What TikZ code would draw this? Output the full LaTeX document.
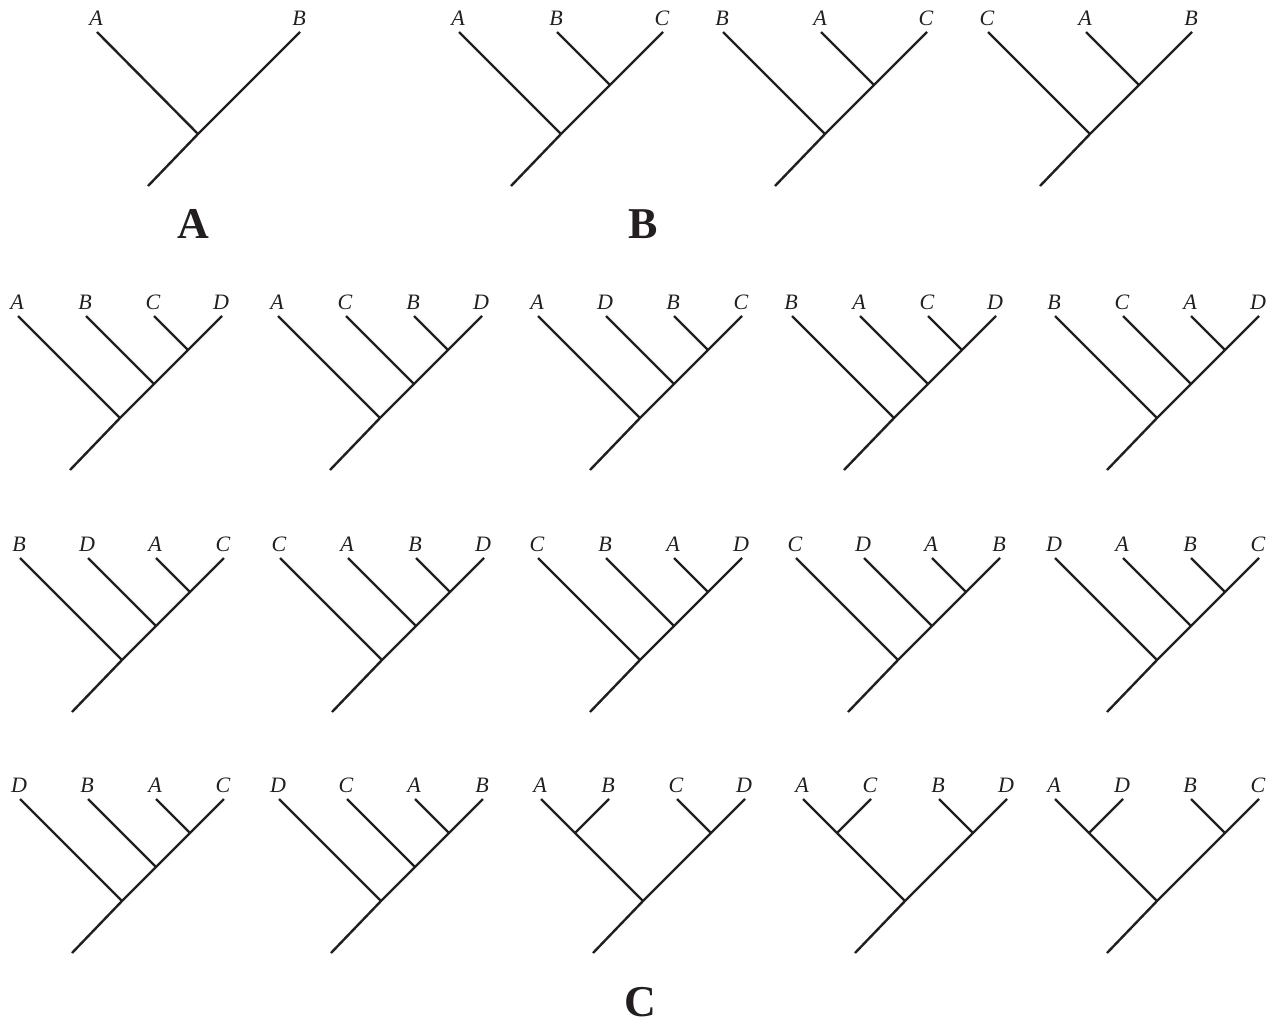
\documentclass[tikz,border=0pt]{standalone}
\usepackage{fontspec}
\setmainfont{Liberation Serif}
\usetikzlibrary{calc}
\definecolor{ink}{HTML}{231F20}
\tikzset{
  br/.style={draw=ink, line width=1.2pt},
  lab/.style={inner sep=0pt, anchor=base, text=ink, font=\itshape\fontsize{11}{12}\selectfont},
  panel/.style={inner sep=0pt, anchor=base, text=ink, font=\bfseries\fontsize{22}{26}\selectfont}
}
% two-leaf tree
\newcommand{\trtwo}[5]{%
  \coordinate (#1r) at (#2,#3);
  \coordinate (#1b) at ($(#1r)+(-50,52)$);
  \coordinate (#1l1) at ($(#1r)+(-101,-102)$);
  \coordinate (#1l2) at ($(#1r)+(102,-102)$);
  \node[lab] (#1t1) at ($(#1l1)+(-1,-6.5)$) {#4};
  \node[lab] (#1t2) at ($(#1l2)+(-1,-6.5)$) {#5};
  \draw[br] (#1b) -- (#1r) -- (#1l2);
  \draw[br] (#1r) -- (#1l1);
}
% three-leaf caterpillar
\newcommand{\trthree}[6]{%
  \coordinate (#1r) at (#2,#3);
  \coordinate (#1b) at ($(#1r)+(-50,52)$);
  \coordinate (#1n) at ($(#1r)+(49,-49)$);
  \coordinate (#1l1) at ($(#1r)+(-102,-102)$);
  \coordinate (#1l2) at ($(#1r)+(-4,-102)$);
  \coordinate (#1l3) at ($(#1r)+(102,-102)$);
  \node[lab] (#1t1) at ($(#1l1)+(-1,-6.5)$) {#4};
  \node[lab] (#1t2) at ($(#1l2)+(-1,-6.5)$) {#5};
  \node[lab] (#1t3) at ($(#1l3)+(-1,-6.5)$) {#6};
  \draw[br] (#1b) -- (#1r) -- (#1n) -- (#1l3);
  \draw[br] (#1r) -- (#1l1);
  \draw[br] (#1n) -- (#1l2);
}
% four-leaf caterpillar
\newcommand{\trcat}[7]{%
  \coordinate (#1r) at (#2,#3);
  \coordinate (#1b) at ($(#1r)+(-50,52)$);
  \coordinate (#1n2) at ($(#1r)+(34,-34)$);
  \coordinate (#1n1) at ($(#1r)+(68,-68)$);
  \coordinate (#1l1) at ($(#1r)+(-102,-102)$);
  \coordinate (#1l2) at ($(#1r)+(-34,-102)$);
  \coordinate (#1l3) at ($(#1r)+(34,-102)$);
  \coordinate (#1l4) at ($(#1r)+(102,-102)$);
  \node[lab] (#1t1) at ($(#1l1)+(-1,-6.5)$) {#4};
  \node[lab] (#1t2) at ($(#1l2)+(-1,-6.5)$) {#5};
  \node[lab] (#1t3) at ($(#1l3)+(-1,-6.5)$) {#6};
  \node[lab] (#1t4) at ($(#1l4)+(-1,-6.5)$) {#7};
  \draw[br] (#1b) -- (#1r) -- (#1n2) -- (#1n1) -- (#1l4);
  \draw[br] (#1r) -- (#1l1);
  \draw[br] (#1n2) -- (#1l2);
  \draw[br] (#1n1) -- (#1l3);
}
% four-leaf balanced
\newcommand{\trbal}[7]{%
  \coordinate (#1r) at (#2,#3);
  \coordinate (#1b) at ($(#1r)+(-50,52)$);
  \coordinate (#1na) at ($(#1r)+(-68,-68)$);
  \coordinate (#1nb) at ($(#1r)+(68,-68)$);
  \coordinate (#1l1) at ($(#1r)+(-102,-102)$);
  \coordinate (#1l2) at ($(#1r)+(-34,-102)$);
  \coordinate (#1l3) at ($(#1r)+(34,-102)$);
  \coordinate (#1l4) at ($(#1r)+(102,-102)$);
  \node[lab] (#1t1) at ($(#1l1)+(-1,-6.5)$) {#4};
  \node[lab] (#1t2) at ($(#1l2)+(-1,-6.5)$) {#5};
  \node[lab] (#1t3) at ($(#1l3)+(-1,-6.5)$) {#6};
  \node[lab] (#1t4) at ($(#1l4)+(-1,-6.5)$) {#7};
  \draw[br] (#1b) -- (#1r) -- (#1nb) -- (#1l4);
  \draw[br] (#1r) -- (#1na) -- (#1l1);
  \draw[br] (#1na) -- (#1l2);
  \draw[br] (#1nb) -- (#1l3);
}
\begin{document}
\begin{tikzpicture}[x=0.5pt,y=-0.5pt]
\useasboundingbox[fill=white] (0,0) rectangle (1270,1022);
% panel A
\trtwo{pa}{198}{134}{A}{B}
\node[panel] (labA) at (193,238) {A};
% panel B
\trthree{pba}{561}{134}{A}{B}{C}
\trthree{pbb}{825}{134}{B}{A}{C}
\trthree{pbc}{1090}{134}{C}{A}{B}
\node[panel] (labB) at (643,238) {B};
% panel C, row 1
\trcat{ra}{120}{418}{A}{B}{C}{D}
\trcat{rb}{380}{418}{A}{C}{B}{D}
\trcat{rc}{640}{418}{A}{D}{B}{C}
\trcat{rd}{894}{418}{B}{A}{C}{D}
\trcat{re}{1157}{418}{B}{C}{A}{D}
% row 2
\trcat{sa}{122}{660}{B}{D}{A}{C}
\trcat{sb}{382}{660}{C}{A}{B}{D}
\trcat{sc}{640}{660}{C}{B}{A}{D}
\trcat{sd}{898}{660}{C}{D}{A}{B}
\trcat{se}{1157}{660}{D}{A}{B}{C}
% row 3
\trcat{ta}{122}{901}{D}{B}{A}{C}
\trcat{tb}{381}{901}{D}{C}{A}{B}
\trbal{tc}{643}{901}{A}{B}{C}{D}
\trbal{td}{905}{901}{A}{C}{B}{D}
\trbal{te}{1157}{901}{A}{D}{B}{C}
\node[panel] (labC) at (640,1016) {C};
\end{tikzpicture}
\end{document}
